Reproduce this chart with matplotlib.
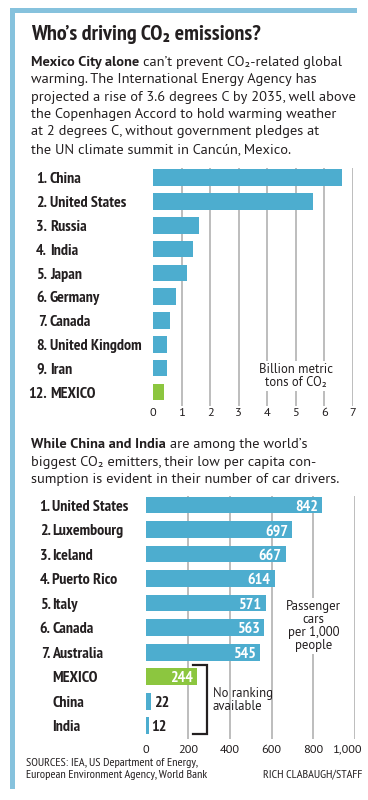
import matplotlib
matplotlib.use("Agg")
import matplotlib.pyplot as plt
from matplotlib import font_manager as fm
from matplotlib.patches import Rectangle
import matplotlib.transforms as mtransforms

# ---------------- data ----------------
co2_ranks = ["1.", "2.", "3.", "4.", "5.", "6.", "7.", "8.", "9.", "12."]
co2_countries = ["China", "United States", "Russia", "India", "Japan",
                 "Germany", "Canada", "United Kingdom", "Iran", "MEXICO"]
co2_values = [6.6, 5.6, 1.6, 1.4, 1.2, 0.8, 0.6, 0.5, 0.5, 0.4]
co2_ticks = [0, 1, 2, 3, 4, 5, 6, 7]
co2_tick_labels = ["0", "1", "2", "3", "4", "5", "6", "7"]

car_ranks = ["1.", "2.", "3.", "4.", "5.", "6.", "7.", "", "", ""]
car_countries = ["United States", "Luxembourg", "Iceland", "Puerto Rico", "Italy",
                 "Canada", "Australia", "MEXICO", "China", "India"]
car_values = [842, 697, 667, 614, 571, 563, 545, 244, 22, 12]
car_ticks = [0, 200, 400, 600, 800, 1000]
car_tick_labels = ["0", "200", "400", "600", "800", "1,000"]

title = "Who\u2019s driving CO\u2082 emissions?"
para1_bold = "Mexico City alone"
para1_lines = ["can\u2019t prevent CO\u2082-related global",
               "warming. The International Energy Agency has",
               "projected a rise of 3.6 degrees C by 2035, well above",
               "the Copenhagen Accord to hold warming weather",
               "at 2 degrees C, without government pledges at",
               "the UN climate summit in Canc\u00fan, Mexico."]
para2_bold = "While China and India"
para2_lines = ["are among the world\u2019s",
               "biggest CO\u2082 emitters, their low per capita con-",
               "sumption is evident in their number of car drivers."]
co2_unit = "Billion metric\ntons of CO\u2082"
car_unit = "Passenger\ncars\nper 1,000\npeople"
no_rank = "No ranking\navailable"
sources = "SOURCES: IEA, US Department of Energy,\nEuropean Environment Agency, World Bank"
credit = "RICH CLABAUGH/STAFF"

# ---------------- style ----------------
W, H, DPI = 368, 800, 100
BLUE = "#4dadcf"
GREEN = "#8cc63f"
BORDER = "#86c2dd"
GRID = "#b8b8b8"
INK = "#231f20"


def has_weights(name):
    ws = {f.weight for f in fm.fontManager.ttflist
          if f.name == name and f.style == "normal"}
    return 400 in ws and 700 in ws


def pick(cands, default="DejaVu Sans"):
    for c in cands:
        if has_weights(c):
            return c
    return default


COND = pick(["PT Sans Narrow", "Roboto Condensed", "Liberation Sans Narrow"], "Liberation Sans")
BODY = pick(["PT Sans", "Source Sans Pro", "Source Sans 3", "Lato"])
COND_FAM = [COND, "DejaVu Sans"]
BODY_FAM = [BODY, "DejaVu Sans"]

fig = plt.figure(figsize=(W / DPI, H / DPI), dpi=DPI)
fig.patch.set_facecolor("white")
renderer = fig.canvas.get_renderer()


def fx(x):
    return x / W


def fy(y):
    return 1 - y / H


def text_width(s, **kw):
    t = fig.text(0, 0, s, **kw)
    w = t.get_window_extent(renderer).width
    t.remove()
    return w


def fit_size(s, target, base=10.0, **kw):
    return base * target / text_width(s, fontsize=base, **kw)


# ---------------- border ----------------
fig.add_artist(Rectangle((fx(10), fy(13)), (357 - 10) / W, 5 / H,
                         transform=fig.transFigure, color=BORDER, lw=0))
fig.add_artist(Rectangle((fx(10), fy(789)), 5 / W, (789 - 8) / H,
                         transform=fig.transFigure, color=BORDER, lw=0))

# ---------------- title & text ----------------
title_size = fit_size(title, 231, family=COND_FAM, fontweight="bold")
fig.text(fx(31), fy(40.5), title, family=COND_FAM, fontweight="bold",
         fontsize=title_size, color=INK, va="baseline", ha="left")

body_size = fit_size(para1_lines[2], 323, family=BODY_FAM)
space_w = (text_width("a a", fontsize=body_size, family=BODY_FAM)
           - text_width("aa", fontsize=body_size, family=BODY_FAM))


def paragraph(x, y0, bold, lines, step):
    t = fig.text(fx(x), fy(y0), bold, family=BODY_FAM, fontweight="bold",
                 fontsize=body_size, color=INK, va="baseline", ha="left")
    x1 = t.get_window_extent(renderer).x1 + space_w
    fig.text(fx(x1), fy(y0), lines[0], family=BODY_FAM, fontsize=body_size,
             color=INK, va="baseline", ha="left")
    for i, ln in enumerate(lines[1:], start=1):
        fig.text(fx(x), fy(y0 + i * step), ln, family=BODY_FAM, fontsize=body_size,
                 color=INK, va="baseline", ha="left")


paragraph(31, 66, para1_bold, para1_lines, 17.35)
paragraph(31, 448.3, para2_bold, para2_lines, 17.5)

label_size = min(11.5, fit_size("8. United Kingdom", 109, family=COND_FAM, fontweight="bold"))
tick_size = fit_size("1,000", 30, family=BODY_FAM)
unit_size = fit_size("Billion metric", 74, family=BODY_FAM)
cap_px = 0.70 * label_size * DPI / 72


def row_labels(ax, ranks, names, x_rank, x_name):
    tr = mtransforms.blended_transform_factory(fig.transFigure, ax.transData)
    tr = tr + mtransforms.ScaledTranslation(0, -(cap_px / 2) / DPI, fig.dpi_scale_trans)
    for i, (r, n) in enumerate(zip(ranks, names)):
        if r:
            ax.text(fx(x_rank), i, r, transform=tr, family=COND_FAM, fontweight="bold",
                    fontsize=label_size, color=INK, ha="right", va="baseline")
        ax.text(fx(x_name), i, n, transform=tr, family=COND_FAM, fontweight="bold",
                fontsize=label_size, color=INK, ha="left", va="baseline")


def style_axis(ax, ticks, labels, pad):
    for s in ax.spines.values():
        s.set_visible(False)
    ax.set_yticks([])
    ax.set_xticks(ticks)
    ax.set_xticklabels(labels, family=BODY_FAM, fontsize=tick_size, color=INK)
    ax.tick_params(axis="x", length=0, pad=pad)
    ax.set_facecolor("none")


# ---------------- chart 1 ----------------
ax1 = fig.add_axes([fx(153), fy(406), 200 / W, (406 - 168) / H])
n1 = len(co2_values)
ax1.set_xlim(co2_ticks[0], co2_ticks[-1])
ax1.set_ylim(n1 - 1 + 0.59, -0.41)
ax1.vlines(co2_ticks[1:], *ax1.get_ylim(), color=GRID, lw=1.3, zorder=1)
colors1 = [GREEN if c == "MEXICO" else BLUE for c in co2_countries]
ax1.barh(range(n1), co2_values, height=0.70, color=colors1, zorder=2)
style_axis(ax1, co2_ticks, co2_tick_labels, 1.5)
row_labels(ax1, co2_ranks, co2_countries, 47.0, 50.0)
fig.text(fx(296), fy(376), co2_unit, family=BODY_FAM, fontsize=unit_size, color=INK,
         ha="center", va="center", linespacing=1.05,
         bbox=dict(facecolor="white", edgecolor="none", pad=1.5), zorder=5)

# ---------------- chart 2 ----------------
ax2 = fig.add_axes([fx(146), fy(739), (355.3 - 146) / W, (739 - 496) / H])
n2 = len(car_values)
ax2.set_xlim(car_ticks[0], car_ticks[-1])
ax2.set_ylim(n2 - 1 + 0.54, -0.37)
ax2.vlines(car_ticks[1:], *ax2.get_ylim(), color=GRID, lw=1.3, zorder=1)
colors2 = [GREEN if c == "MEXICO" else BLUE for c in car_countries]
ax2.barh(range(n2), car_values, height=0.68, color=colors2, zorder=2)
style_axis(ax2, car_ticks, car_tick_labels, 4.0)
last = ax2.get_xticklabels()[-1]
last.set_horizontalalignment("right")
last.set_transform(last.get_transform()
                   + mtransforms.ScaledTranslation(6.5 / DPI, 0, fig.dpi_scale_trans))
row_labels(ax2, car_ranks, car_countries, 50.5, 52.5)

vtr = ax2.transData + mtransforms.ScaledTranslation(0, -(cap_px / 2) / DPI, fig.dpi_scale_trans)
for i, v in enumerate(car_values):
    if v >= 100:
        ax2.text(v, i, f"{v}", family=COND_FAM, fontweight="bold", fontsize=label_size,
                 color="white", ha="right", va="baseline", zorder=4,
                 transform=vtr + mtransforms.ScaledTranslation(-4 / DPI, 0, fig.dpi_scale_trans))
    else:
        ax2.text(v, i, f"{v}", family=COND_FAM, fontweight="bold", fontsize=label_size,
                 color=INK, ha="left", va="baseline", zorder=4,
                 transform=vtr + mtransforms.ScaledTranslation(3 / DPI, 0, fig.dpi_scale_trans))

# bracket around unranked rows
unranked = [i for i, r in enumerate(car_ranks) if not r]
br_tr = mtransforms.blended_transform_factory(fig.transFigure, ax2.transData)
y_top, y_bot = unranked[0] - 0.49, unranked[-1] + 0.35
fig.add_artist(plt.Line2D([fx(192.7), fx(206.7), fx(206.7), fx(192.7)],
                          [y_top, y_top, y_bot, y_bot], transform=br_tr,
                          color=INK, lw=1.6, solid_joinstyle="miter"))
fig.text(fx(212.7), fy(699.5), no_rank, family=BODY_FAM, fontsize=unit_size, color=INK,
         ha="left", va="center", linespacing=1.0)
fig.text(fx(313.3), fy(626), car_unit, family=BODY_FAM, fontsize=unit_size, color=INK,
         ha="center", va="center", linespacing=1.0,
         bbox=dict(facecolor="white", edgecolor="none", pad=1.5), zorder=5)

# ---------------- footer ----------------
src_size = fit_size("SOURCES: IEA, US Department of Energy,", 171, family=COND_FAM)
fig.text(fx(25.7), fy(777.5), sources, family=COND_FAM, fontsize=src_size, color=INK,
         ha="left", va="baseline", linespacing=1.2)
fig.text(fx(362.7), fy(777.5), credit, family=COND_FAM, fontsize=src_size, color=INK,
         ha="right", va="baseline")

fig.savefig("out.png", dpi=DPI, facecolor="white")
